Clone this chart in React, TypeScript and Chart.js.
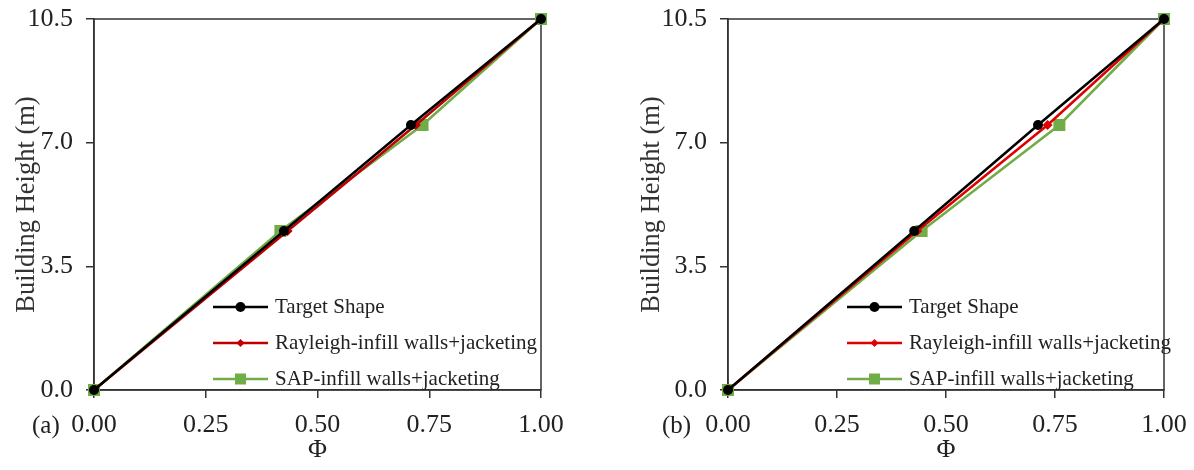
import React, { useEffect, useRef } from 'react';
import { Chart, registerables } from 'chart.js';
Chart.register(...registerables);

// ---- data ----
const heights = [0, 4.5, 7.5, 10.5];
const phiTargetA = [0, 0.425, 0.709, 1];
const phiRayleighA = [0, 0.433, 0.72, 1];
const phiSapA = [0, 0.417, 0.735, 1];
const phiTargetB = [0, 0.427, 0.711, 1];
const phiRayleighB = [0, 0.434, 0.733, 1];
const phiSapB = [0, 0.444, 0.76, 1];
const seriesNames = ['Target Shape', 'Rayleigh-infill walls+jacketing', 'SAP-infill walls+jacketing'];
const xTickValues = [0, 0.25, 0.5, 0.75, 1];
const yTickValues = [0, 3.5, 7, 10.5];
const panelLabels = ['(a)', '(b)'];
const xTitle = 'Φ';
const yTitle = 'Building Height (m)';

const FONT = "'Liberation Serif', 'Times New Roman', serif";
const AXIS = '#333333';
const TEXT = '#222222';

type PanelCfg = {
  left: number;
  yAxisWidth: number;
  rightPad: number;
  yTitlePad: number;
  label: string;
  labelX: number;
  series: number[][];
  colors: string[];
};

const pointStyles = ['circle', 'rectRot', 'rect'];
const pointRadii = [5, 5, 8.5];

function Panel({ cfg }: { cfg: PanelCfg }) {
  const ref = useRef<HTMLCanvasElement | null>(null);
  useEffect(() => {
    if (!ref.current) return;
    const datasets = cfg.series.map((xs, i) => ({
      label: seriesNames[i],
      data: xs.map((x, j) => ({ x, y: heights[j] })),
      borderColor: cfg.colors[i],
      backgroundColor: cfg.colors[i],
      borderWidth: 2.5,
      pointStyle: pointStyles[i],
      pointRadius: pointRadii[i],
      pointBorderWidth: 0,
      pointBackgroundColor: cfg.colors[i],
      clip: false as any,
      tension: 0,
    }));

    const boxPlugin = {
      id: 'box',
      beforeDatasetsDraw(chart: any) {
        const { ctx, chartArea: a } = chart;
        ctx.save();
        ctx.strokeStyle = AXIS;
        ctx.lineWidth = 1.5;
        ctx.strokeRect(a.left, a.top, a.right - a.left, a.bottom - a.top);
        ctx.restore();
      },
    };

    const legendPlugin = {
      id: 'customLegend',
      afterDraw(chart: any) {
        const { ctx, chartArea: a } = chart;
        ctx.save();
        const x0 = a.left + 119;
        const x1 = a.left + 174;
        const xm = (x0 + x1) / 2;
        const rows = [288, 324, 360];
        chart.data.datasets.forEach((ds: any, i: number) => {
          const y = a.top + rows[i];
          ctx.strokeStyle = ds.borderColor;
          ctx.fillStyle = ds.borderColor;
          ctx.lineWidth = 2.5;
          ctx.beginPath();
          ctx.moveTo(x0, y);
          ctx.lineTo(x1, y);
          ctx.stroke();
          ctx.beginPath();
          if (i === 0) {
            ctx.arc(xm, y, 5, 0, Math.PI * 2);
          } else if (i === 1) {
            ctx.moveTo(xm, y - 4);
            ctx.lineTo(xm + 4, y);
            ctx.lineTo(xm, y + 4);
            ctx.lineTo(xm - 4, y);
            ctx.closePath();
          } else {
            ctx.rect(xm - 5.5, y - 5.5, 11, 11);
          }
          ctx.fill();
          ctx.fillStyle = TEXT;
          ctx.font = `21px ${FONT}`;
          ctx.textBaseline = 'middle';
          ctx.textAlign = 'left';
          ctx.fillText(ds.label, a.left + 181, y);
        });
        ctx.font = `25px ${FONT}`;
        ctx.fillStyle = TEXT;
        ctx.textBaseline = 'alphabetic';
        ctx.fillText(cfg.label, cfg.labelX, 433);
        ctx.restore();
      },
    };

    const chart = new Chart(ref.current, {
      type: 'line',
      data: { datasets },
      options: {
        animation: false,
        responsive: false,
        layout: { padding: { top: 19, right: cfg.rightPad, left: 0, bottom: 0 } },
        plugins: { legend: { display: false }, tooltip: { enabled: false } },
        scales: {
          x: {
            type: 'linear',
            min: 0,
            max: 1,
            afterBuildTicks: (s: any) => {
              s.ticks = xTickValues.map((v) => ({ value: v }));
            },
            afterFit: (s: any) => {
              s.height = 80;
              s.paddingLeft = 0;
              s.paddingRight = 0;
              s.paddingTop = 0;
              s.paddingBottom = 0;
            },
            ticks: {
              callback: (v: any) => Number(v).toFixed(2),
              font: { family: FONT, size: 26 },
              color: TEXT,
              padding: 12,
              maxRotation: 0,
            },
            grid: { drawOnChartArea: false, drawTicks: true, tickLength: 8, color: AXIS, lineWidth: 1.5 },
            border: { display: true, color: AXIS, width: 1.5 },
            title: {
              display: true,
              text: xTitle,
              font: { family: FONT, size: 26 },
              color: TEXT,
              padding: { top: 0, bottom: 4 },
            },
          },
          y: {
            type: 'linear',
            min: 0,
            max: 10.5,
            afterBuildTicks: (s: any) => {
              s.ticks = yTickValues.map((v) => ({ value: v }));
            },
            afterFit: (s: any) => {
              s.width = cfg.yAxisWidth;
              s.paddingLeft = 0;
              s.paddingRight = 0;
              s.paddingTop = 0;
              s.paddingBottom = 0;
            },
            ticks: {
              callback: (v: any) => Number(v).toFixed(1),
              font: { family: FONT, size: 26 },
              color: TEXT,
              padding: 13,
            },
            grid: { drawOnChartArea: false, drawTicks: true, tickLength: 8, color: AXIS, lineWidth: 1.5 },
            border: { display: true, color: AXIS, width: 1.5 },
            title: {
              display: true,
              text: yTitle,
              font: { family: FONT, size: 26.5 },
              color: '#333333',
              padding: { top: cfg.yTitlePad, bottom: 0 },
            },
          },
        },
      },
      plugins: [boxPlugin, legendPlugin],
    });
    return () => chart.destroy();
  }, [cfg]);

  return (
    <div style={{ position: 'absolute', left: cfg.left, top: 0, width: 597, height: 470 }}>
      <canvas ref={ref} width={597} height={470} style={{ display: 'block' }} />
    </div>
  );
}

const panelA: PanelCfg = {
  left: 0,
  yAxisWidth: 94,
  rightPad: 56,
  yTitlePad: 11,
  label: panelLabels[0],
  labelX: 32,
  series: [phiTargetA, phiRayleighA, phiSapA],
  colors: ['#000000', '#C00000', '#70AD47'],
};
const panelB: PanelCfg = {
  left: 597,
  yAxisWidth: 131,
  rightPad: 30,
  yTitlePad: 39,
  label: panelLabels[1],
  labelX: 65,
  series: [phiTargetB, phiRayleighB, phiSapB],
  colors: ['#000000', '#E00000', '#70AD47'],
};

export default function App() {
  return (
    <div style={{ position: 'absolute', left: 0, top: 0, width: 1194, height: 470, background: '#fff', overflow: 'hidden' }}>
      <Panel cfg={panelA} />
      <Panel cfg={panelB} />
    </div>
  );
}
